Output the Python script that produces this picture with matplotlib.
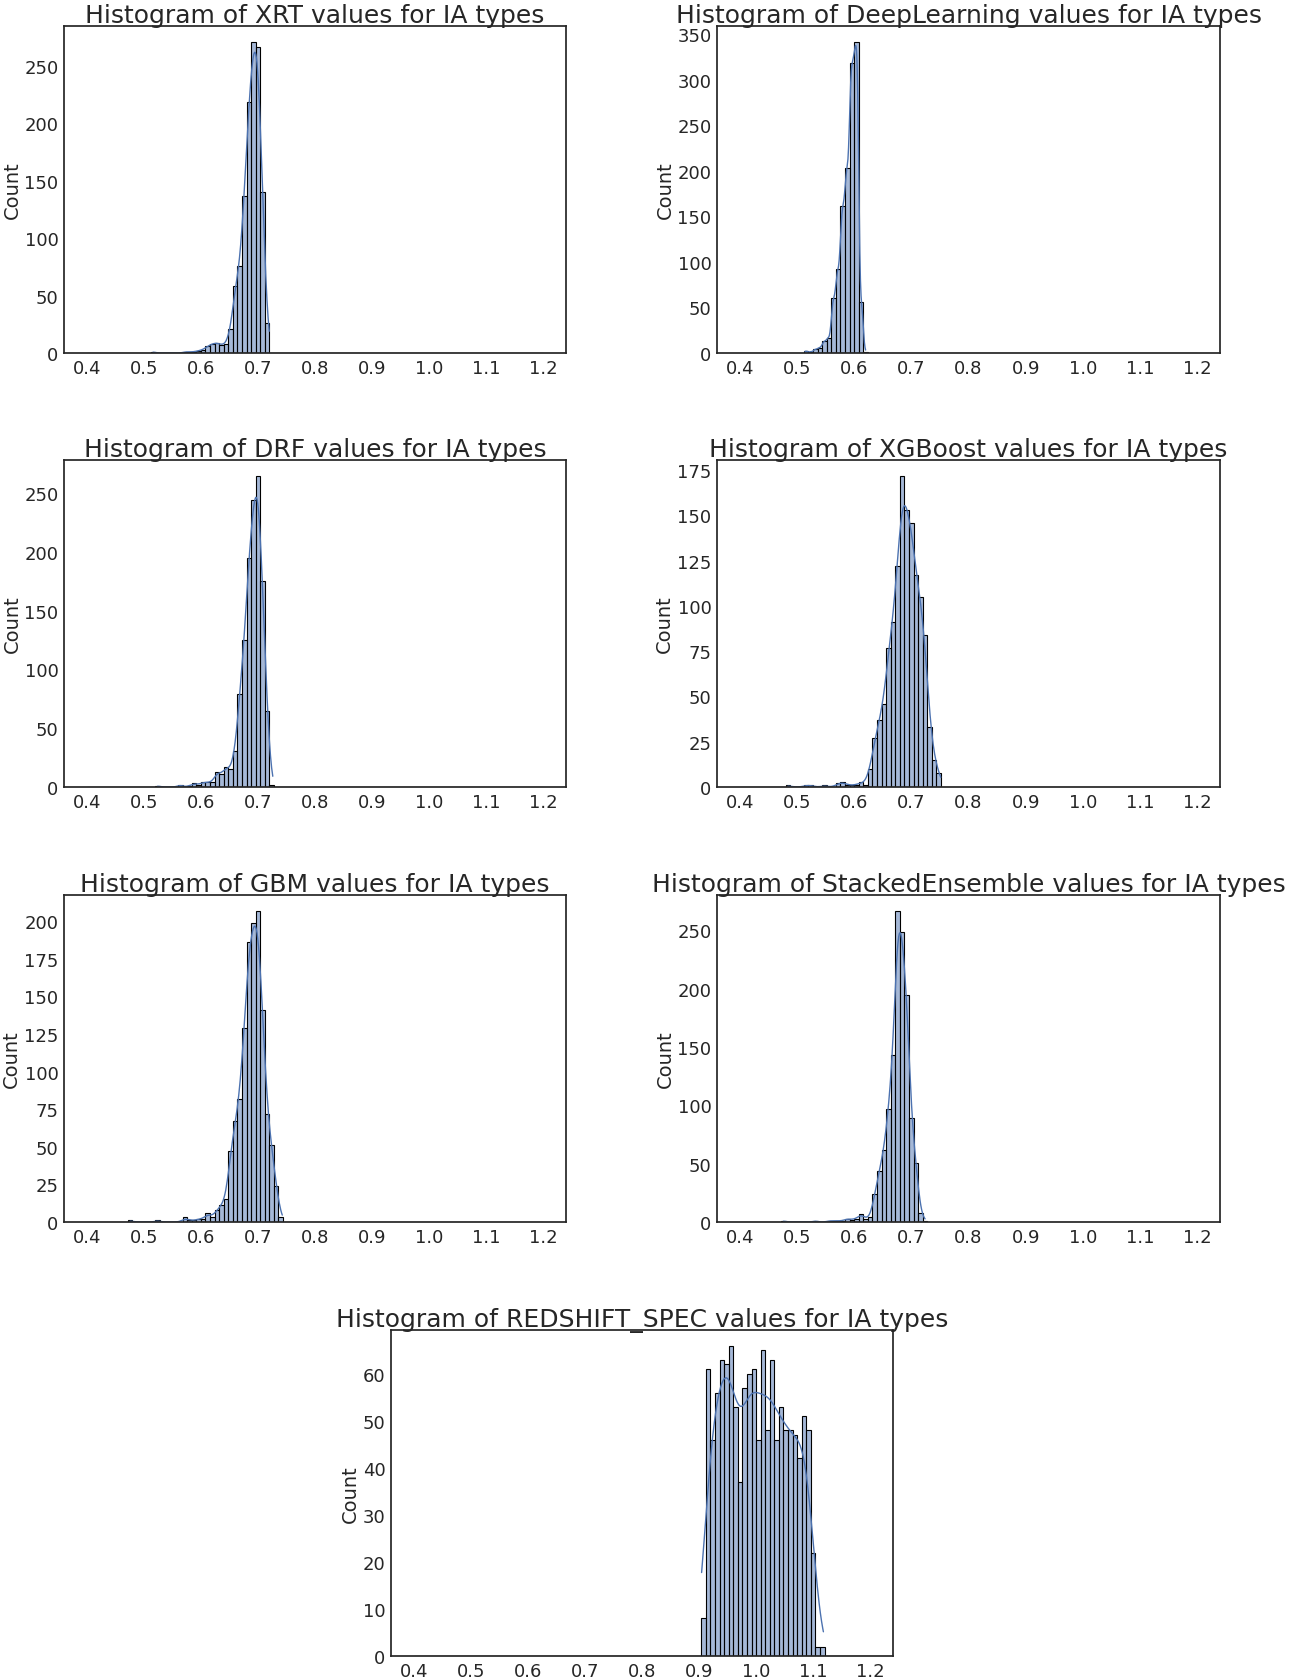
import numpy as np
import matplotlib
matplotlib.use("Agg")
import matplotlib.pyplot as plt
import seaborn as sns
from matplotlib.ticker import MultipleLocator

# histogram bins: 100 bins between 0.4 and 1.2
BIN_LO = 0.4
BIN_HI = 1.2
N_BINS = 100

# counts, first_bin is the index of the first listed bin
xrt_first = 14
xrt_counts = [1, 0, 0, 0, 0, 0, 0, 1, 1, 1, 2, 3, 6, 8, 9, 7, 8, 21, 58, 76, 137, 218, 271, 266, 140, 26]

dl_first = 14
dl_counts = [2, 1, 4, 6, 13, 17, 60, 92, 161, 203, 319, 342, 56, 1]

drf_first = 15
drf_counts = [1, 0, 0, 0, 0, 2, 0, 1, 3, 2, 4, 4, 4, 13, 11, 17, 15, 31, 79, 125, 195, 244, 265, 175, 65, 2]

xgb_first = 10
xgb_counts = [1, 0, 0, 0, 1, 1, 0, 0, 1, 0, 0, 2, 3, 1, 1, 1, 3, 1, 10, 27, 37, 46, 77, 91, 122,
              172, 153, 146, 117, 105, 84, 33, 15, 8]

gbm_first = 9
gbm_counts = [1, 0, 0, 0, 0, 0, 1, 0, 0, 0, 0, 0, 3, 1, 1, 2, 2, 6, 3, 8, 11, 15, 47, 67, 82,
              129, 186, 199, 207, 141, 72, 51, 24, 3]

se_first = 9
se_counts = [1, 0, 0, 0, 0, 0, 0, 1, 0, 0, 1, 1, 1, 1, 3, 2, 3, 7, 3, 4, 24, 44, 62, 97, 143,
             267, 249, 195, 89, 51, 8, 1]

zspec_first = 63
zspec_counts = [8, 61, 46, 56, 63, 62, 66, 53, 37, 57, 60, 61, 46, 65, 48, 63, 46, 53, 48, 48,
                47, 42, 51, 48, 22, 2, 2]

names = ["XRT", "DeepLearning", "DRF", "XGBoost", "GBM", "StackedEnsemble", "REDSHIFT_SPEC"]
firsts = [xrt_first, dl_first, drf_first, xgb_first, gbm_first, se_first, zspec_first]
counts = [xrt_counts, dl_counts, drf_counts, xgb_counts, gbm_counts, se_counts, zspec_counts]
y_steps = [50, 50, 50, 25, 25, 50, 10]
bw_adjust = [1, 0.6, 1, 1, 1, 1, 1]

W, H = 1311, 1681


def to_samples(first, cnts):
    # spread each bin's count evenly inside the bin
    width = (BIN_HI - BIN_LO) / N_BINS
    vals = []
    for i, c in enumerate(cnts):
        if c == 0:
            continue
        left = BIN_LO + (first + i) * width
        vals.extend(left + (np.arange(c) + 0.5) / c * width)
    return np.array(vals)


def px_rect(x0, y0, x1, y1):
    return [x0 / W, 1 - y1 / H, (x1 - x0) / W, (y1 - y0) / H]


sns.set_theme(style="white")
plt.rcParams['font.family'] = ['DejaVu Sans']

fig = plt.figure(figsize=(W / 100, H / 100), dpi=100)

rects = [
    px_rect(64, 27, 566, 354), px_rect(717, 27, 1220, 354),
    px_rect(64, 461, 566, 788), px_rect(717, 461, 1220, 788),
    px_rect(64, 896, 566, 1223), px_rect(717, 896, 1220, 1223),
    px_rect(391, 1331, 893, 1657),
]

for name, first, cnts, step, bw, rect in zip(names, firsts, counts, y_steps, bw_adjust, rects):
    ax = fig.add_axes(rect)
    data = to_samples(first, cnts)
    sns.histplot(x=data, bins=N_BINS, binrange=(BIN_LO, BIN_HI), kde=True,
                 kde_kws={"bw_adjust": bw},
                 edgecolor="black", linewidth=0.8, ax=ax)
    ax.set_title(f"Histogram of {name} values for IA types", fontsize=18, pad=3)
    ax.set_ylabel("Count", fontsize=14, labelpad=2)
    ax.set_xticks(np.arange(0.4, 1.21, 0.1))
    ax.yaxis.set_major_locator(MultipleLocator(step))
    ax.tick_params(labelsize=13, length=0, pad=4)
    for line in ax.lines:
        line.set_linewidth(1.0)

fig.savefig("out.png", dpi=100)
